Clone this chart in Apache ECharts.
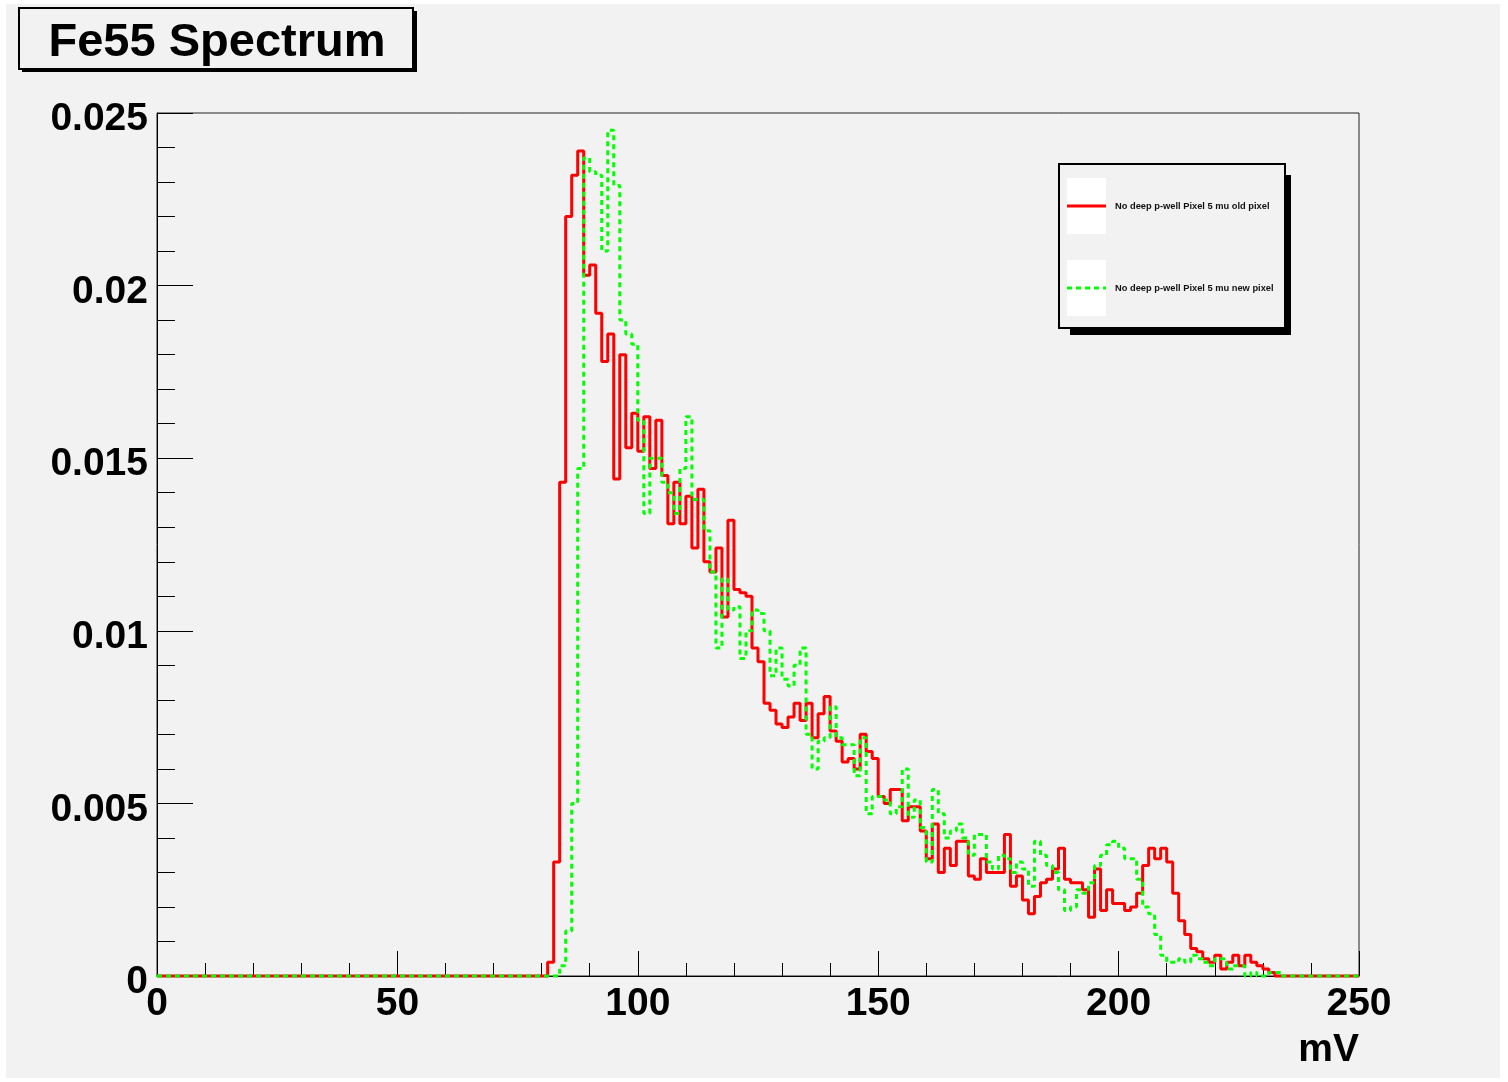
<!DOCTYPE html>
<html>
<head>
<meta charset="utf-8">
<script src="https://cdn.jsdelivr.net/npm/echarts@6/dist/echarts.min.js"></script>
<style>
html,body{margin:0;padding:0;background:#ffffff;}
#chart{position:absolute;left:6px;top:4px;width:1494px;height:1074px;background:#f2f2f2;}
</style>
</head>
<body>
<div id="chart"></div>
<script>
// Histogram binning (mV)
var binWidth = 1.25;
var nBins = 200;
var firstBin = 64; // bin index of first listed value (80 mV)

// "No deep p-well Pixel 5 mu old pixel" (red), bins from 80 mV
var oldPixel = [
0, 0.0004, 0.0033, 0.0143, 0.0220, 0.0232, 0.0239, 0.0203, 0.0206, 0.0192,
0.0178, 0.0186, 0.0144, 0.0180, 0.0153, 0.0163, 0.0152, 0.0162, 0.0147, 0.0161,
0.0145, 0.0131, 0.0143, 0.0131, 0.0139, 0.0124, 0.0141, 0.0120, 0.0117, 0.0124,
0.0104, 0.0132, 0.0112, 0.0111, 0.0110, 0.0095, 0.0091, 0.0079, 0.0077, 0.0073,
0.0072, 0.0075, 0.0079, 0.0074, 0.0079, 0.0069, 0.0076, 0.0081, 0.0071, 0.0068,
0.0062, 0.0063, 0.0060, 0.0070, 0.0065, 0.0063, 0.0052, 0.0050, 0.0054, 0.0054,
0.0045, 0.0049, 0.0049, 0.0042, 0.0034, 0.0044, 0.0030, 0.0037, 0.0032, 0.0039,
0.0039, 0.0029, 0.0028, 0.0034, 0.0030, 0.0030, 0.0030, 0.0041, 0.0026, 0.0029,
0.0022, 0.0018, 0.0023, 0.0027, 0.0028, 0.0031, 0.0037, 0.0028, 0.0027, 0.0027,
0.0025, 0.0017, 0.0031, 0.0019, 0.0025, 0.0021, 0.0021, 0.0019, 0.0020, 0.0024,
0.0032, 0.0037, 0.0034, 0.0037, 0.0033, 0.0024, 0.0016, 0.0012, 0.0008, 0.0007,
0.0005, 0.0004, 0.0006, 0.0002, 0.0004, 0.0006, 0.0003, 0.0006, 0.0004, 0.0003,
0.0002, 0.0001, 0
];

// "No deep p-well Pixel 5 mu new pixel" (green), bins from 80 mV
var newPixel = [
0, 0, 0, 0.0003, 0.0013, 0.0050, 0.0147, 0.0237, 0.0233, 0.0232,
0.0210, 0.0245, 0.0229, 0.0190, 0.0186, 0.0183, 0.0161, 0.0134, 0.0150, 0.0150,
0.0143, 0.0140, 0.0134, 0.0147, 0.0162, 0.0138, 0.0138, 0.0129, 0.0117, 0.0095,
0.0115, 0.0106, 0.0107, 0.0092, 0.0100, 0.0106, 0.0105, 0.0100, 0.0087, 0.0095,
0.0086, 0.0084, 0.0090, 0.0095, 0.0070, 0.0060, 0.0068, 0.0069, 0.0078, 0.0069,
0.0067, 0.0067, 0.0058, 0.0069, 0.0047, 0.0052, 0.0052, 0.0051, 0.0047, 0.0049,
0.0060, 0.0046, 0.0051, 0.0043, 0.0033, 0.0054, 0.0047, 0.0040, 0.0042, 0.0044,
0.0040, 0.0035, 0.0041, 0.0041, 0.0033, 0.0031, 0.0035, 0.0034, 0.0030, 0.0033,
0.0031, 0.0026, 0.0039, 0.0035, 0.0032, 0.0030, 0.0025, 0.0019, 0.0020, 0.0025,
0.0024, 0.0027, 0.0032, 0.0035, 0.0038, 0.0039, 0.0037, 0.0034, 0.0034, 0.0028,
0.0020, 0.0018, 0.0012, 0.0006, 0.0004, 0.0004, 0.0005, 0.0004, 0.0006, 0.0005,
0.0004, 0.0003, 0.0005, 0.0005, 0.0002, 0.0003, 0.0003, 0, 0.0001, 0,
0, 0.0001, 0.0001, 0
];

var titleText = "Fe55 Spectrum";
var legendNames = ["No deep p-well Pixel 5 mu old pixel", "No deep p-well Pixel 5 mu new pixel"];
var xTicks = [0, 50, 100, 150, 200, 250];
var yTicks = [0, 0.005, 0.01, 0.015, 0.02, 0.025];
var xName = "mV";

function histData(vals) {
  var out = [];
  for (var i = 0; i < nBins; i++) {
    var j = i - firstBin;
    var v = (j >= 0 && j < vals.length) ? vals[j] : 0;
    out.push([i * binWidth, v]);
  }
  out.push([nBins * binWidth, 0]);
  return out;
}

var FONT = "'Liberation Sans', Arial, Helvetica, sans-serif";
var chart = echarts.init(document.getElementById('chart'), null, {renderer: 'canvas'});

var option = {
  backgroundColor: '#f2f2f2',
  animation: false,
  grid: {
    left: 151, right: 141, top: 109, bottom: 102,
    show: true, borderColor: '#222', borderWidth: 1, backgroundColor: 'transparent'
  },
  xAxis: {
    type: 'value',
    min: xTicks[0], max: xTicks[xTicks.length - 1], interval: 50,
    name: xName,
    nameLocation: 'end',
    nameGap: 0,
    nameTextStyle: {
      fontFamily: FONT, fontSize: 39, fontWeight: 'bold', color: '#000',
      align: 'right', verticalAlign: 'top', padding: [55, 0, 0, 0]
    },
    axisLine: {show: true, onZero: false, lineStyle: {color: '#000', width: 1}},
    axisTick: {show: true, inside: true, length: 25, lineStyle: {color: '#000', width: 1}},
    minorTick: {show: true, splitNumber: 5, length: 13, lineStyle: {color: '#000', width: 1}},
    splitLine: {show: false},
    axisLabel: {
      fontFamily: FONT, fontSize: 39, fontWeight: 'bold', color: '#000', margin: 9,
      formatter: function (v) { return String(v); }
    }
  },
  yAxis: {
    type: 'value',
    min: yTicks[0], max: yTicks[yTicks.length - 1], interval: 0.005,
    axisLine: {show: true, onZero: false, lineStyle: {color: '#000', width: 1}},
    axisTick: {show: true, inside: true, length: 36, lineStyle: {color: '#000', width: 1}},
    minorTick: {show: true, splitNumber: 5, length: 18, lineStyle: {color: '#000', width: 1}},
    splitLine: {show: false},
    axisLabel: {
      fontFamily: FONT, fontSize: 39, fontWeight: 'bold', color: '#000', margin: 9,
      formatter: function (v) { return '{v|' + String(Math.round(v * 1000) / 1000) + '}'; },
      rich: {
        v: {fontFamily: FONT, fontSize: 39, fontWeight: 'bold', color: '#000', padding: [13, 0, 0, 0]}
      }
    }
  },
  series: [
    {
      name: legendNames[0], type: 'line', step: 'end', showSymbol: false, clip: false,
      data: histData(oldPixel),
      lineStyle: {color: '#ff0000', width: 3},
      z: 3
    },
    {
      name: legendNames[1], type: 'line', step: 'end', showSymbol: false, clip: false,
      data: histData(newPixel),
      lineStyle: {color: '#00ff00', width: 3, type: [5, 4]},
      z: 4
    }
  ],
  graphic: [
    // title box
    {type: 'rect', shape: {x: 16, y: 7, width: 395, height: 61}, style: {fill: '#000'}, z: 10},
    {type: 'rect', shape: {x: 13, y: 4, width: 394, height: 61}, style: {fill: '#f2f2f2', stroke: '#000', lineWidth: 2}, z: 11},
    {type: 'text', x: 211, y: 39, style: {text: titleText, font: 'bold 47px ' + FONT, fill: '#000', textAlign: 'center', textVerticalAlign: 'middle'}, z: 12},
    // legend box
    {type: 'rect', shape: {x: 1064, y: 171, width: 221, height: 160}, style: {fill: '#000'}, z: 10},
    {type: 'rect', shape: {x: 1053, y: 160, width: 226, height: 164}, style: {fill: '#f2f2f2', stroke: '#000', lineWidth: 2}, z: 11},
    {type: 'rect', shape: {x: 1061, y: 174, width: 39, height: 56}, style: {fill: '#ffffff'}, z: 12},
    {type: 'rect', shape: {x: 1061, y: 256, width: 39, height: 56}, style: {fill: '#ffffff'}, z: 12},
    {type: 'line', shape: {x1: 1061, y1: 202, x2: 1100, y2: 202}, style: {stroke: '#ff0000', lineWidth: 3}, z: 13},
    {type: 'line', shape: {x1: 1061, y1: 284, x2: 1100, y2: 284}, style: {stroke: '#00ff00', lineWidth: 3, lineDash: [5, 4]}, z: 13},
    {type: 'text', x: 1109, y: 202, style: {text: legendNames[0], font: 'bold 9.3px ' + FONT, fill: '#111', textVerticalAlign: 'middle'}, z: 13},
    {type: 'text', x: 1109, y: 284, style: {text: legendNames[1], font: 'bold 9.3px ' + FONT, fill: '#111', textVerticalAlign: 'middle'}, z: 13}
  ]
};
chart.setOption(option);
</script>
</body>
</html>
